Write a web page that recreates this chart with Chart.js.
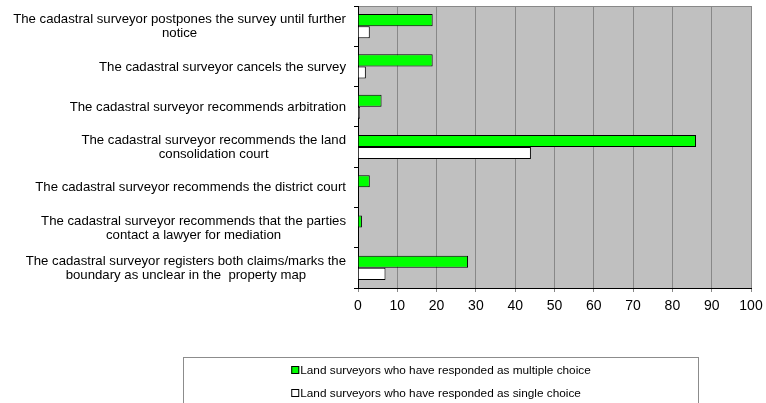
<!DOCTYPE html>
<html>
<head>
<meta charset="utf-8">
<script src="https://cdn.jsdelivr.net/npm/chart.js@4/dist/chart.umd.min.js"></script>
<style>
  html, body { margin: 0; padding: 0; background: #fff; }
  #wrap { position: relative; width: 766px; height: 403px; overflow: hidden; }
  #legend {
    position: absolute; left: 183px; top: 357px; width: 516px; height: 60px;
    border: 1px solid #8c8c8c; box-sizing: border-box;
    font-family: Arial, 'Liberation Sans', sans-serif; font-size: 11.8px; color: #000;
  }
  #legend ul { list-style: none; margin: 0; padding: 0; position: absolute; left: 50%; transform: translateX(-50%); top: 5px; white-space: nowrap; }
  #legend li { height: 23px; line-height: 15px; }
  #legend span.box { display: inline-block; width: 6px; height: 6px; border: 1px solid #000; margin-right: 1px; vertical-align: 0px; }
</style>
</head>
<body>
<div id="wrap">
  <canvas id="chart" width="766" height="403"></canvas>
  <div id="legend"></div>
</div>
<script>
    // --- Data ---
    const categories = [
        ['The cadastral surveyor postpones the survey until further', 'notice'],
        ['The cadastral surveyor cancels the survey'],
        ['The cadastral surveyor recommends arbitration'],
        ['The cadastral surveyor recommends the land', 'consolidation court'],
        ['The cadastral surveyor recommends the district court'],
        ['The cadastral surveyor recommends that the parties', 'contact a lawyer for mediation'],
        ['The cadastral surveyor registers both claims/marks the', 'boundary as unclear in the  property map']
    ];
    const multipleChoice = [19, 19, 6, 86, 3, 1, 28];
    const singleChoice = [3, 2, 0.5, 44, 0, 0, 7];
    const seriesNames = [
        'Land surveyors who have responded as multiple choice',
        'Land surveyors who have responded as single choice'
    ];
    const xTicks = [0, 10, 20, 30, 40, 50, 60, 70, 80, 90, 100];

    const FONT = "Arial, 'Liberation Sans', sans-serif";
    Chart.defaults.font.family = FONT;
    Chart.defaults.color = '#000';

    // plot background + top border
    const plotBackground = {
        id: 'plotBackground',
        beforeDraw(chart) {
            const { ctx, chartArea: a } = chart;
            ctx.save();
            ctx.fillStyle = '#c0c0c0';
            ctx.fillRect(a.left, a.top, a.right - a.left, a.bottom - a.top);
            ctx.strokeStyle = '#888';
            ctx.lineWidth = 1;
            ctx.beginPath();
            ctx.moveTo(a.left, a.top + 0.5);
            ctx.lineTo(a.right, a.top + 0.5);
            ctx.stroke();
            ctx.restore();
        }
    };

    // category labels: block right-aligned, lines centred within block
    const categoryLabels = {
        id: 'categoryLabels',
        afterDraw(chart) {
            const { ctx } = chart;
            const yScale = chart.scales.y;
            const rightEdge = yScale.right - 12;
            const lineH = 14;
            ctx.save();
            ctx.font = '13.2px ' + FONT;
            ctx.fillStyle = '#000';
            ctx.textAlign = 'center';
            ctx.textBaseline = 'middle';
            categories.forEach((lines, i) => {
                const cy = yScale.getPixelForValue(i) + 0.5;
                const widest = Math.max(...lines.map(l => ctx.measureText(l).width));
                const cx = rightEdge - widest / 2;
                const startY = cy - (lines.length - 1) * lineH / 2;
                lines.forEach((l, j) => ctx.fillText(l, cx, startY + j * lineH));
            });
            ctx.restore();
        }
    };

    const chart = new Chart(document.getElementById('chart'), {
        type: 'bar',
        data: {
            labels: categories,
            datasets: [{
                label: seriesNames[0],
                data: multipleChoice,
                backgroundColor: '#00ff00',
                borderColor: '#000',
                borderWidth: 1
            }, {
                label: seriesNames[1],
                data: singleChoice,
                backgroundColor: '#ffffff',
                borderColor: '#000',
                borderWidth: 1
            }]
        },
        options: {
            indexAxis: 'y',
            responsive: false,
            animation: false,
            datasets: { bar: { categoryPercentage: 0.6, barPercentage: 1.0 } },
            layout: { padding: { top: 6, right: 15, bottom: 85, left: 0 } },
            plugins: { legend: { display: false }, tooltip: { enabled: false } },
            scales: {
                x: {
                    min: 0, max: 100,
                    afterBuildTicks: (s) => { s.ticks = xTicks.map(v => ({ value: v })); },
                    afterFit: (s) => { s.height = 30; s.paddingLeft = 0; s.paddingRight = 0; },
                    grid: { color: '#888', tickColor: '#888', tickLength: 4, lineWidth: 1 },
                    border: { color: '#000', width: 1 },
                    ticks: { font: { size: 14 }, padding: 6, maxRotation: 0 }
                },
                y: {
                    afterFit: (s) => { s.width = 358; },
                    grid: { drawOnChartArea: false, color: '#000', tickLength: 4 },
                    border: { color: '#000', width: 1 },
                    ticks: { display: false }
                }
            }
        },
        plugins: [plotBackground, categoryLabels]
    });

    // HTML legend built from datasets
    const ul = document.createElement('ul');
    chart.data.datasets.forEach(ds => {
        const li = document.createElement('li');
        const box = document.createElement('span');
        box.className = 'box';
        box.style.background = ds.backgroundColor;
        li.appendChild(box);
        li.appendChild(document.createTextNode(ds.label));
        ul.appendChild(li);
    });
    document.getElementById('legend').appendChild(ul);
</script>
</body>
</html>
